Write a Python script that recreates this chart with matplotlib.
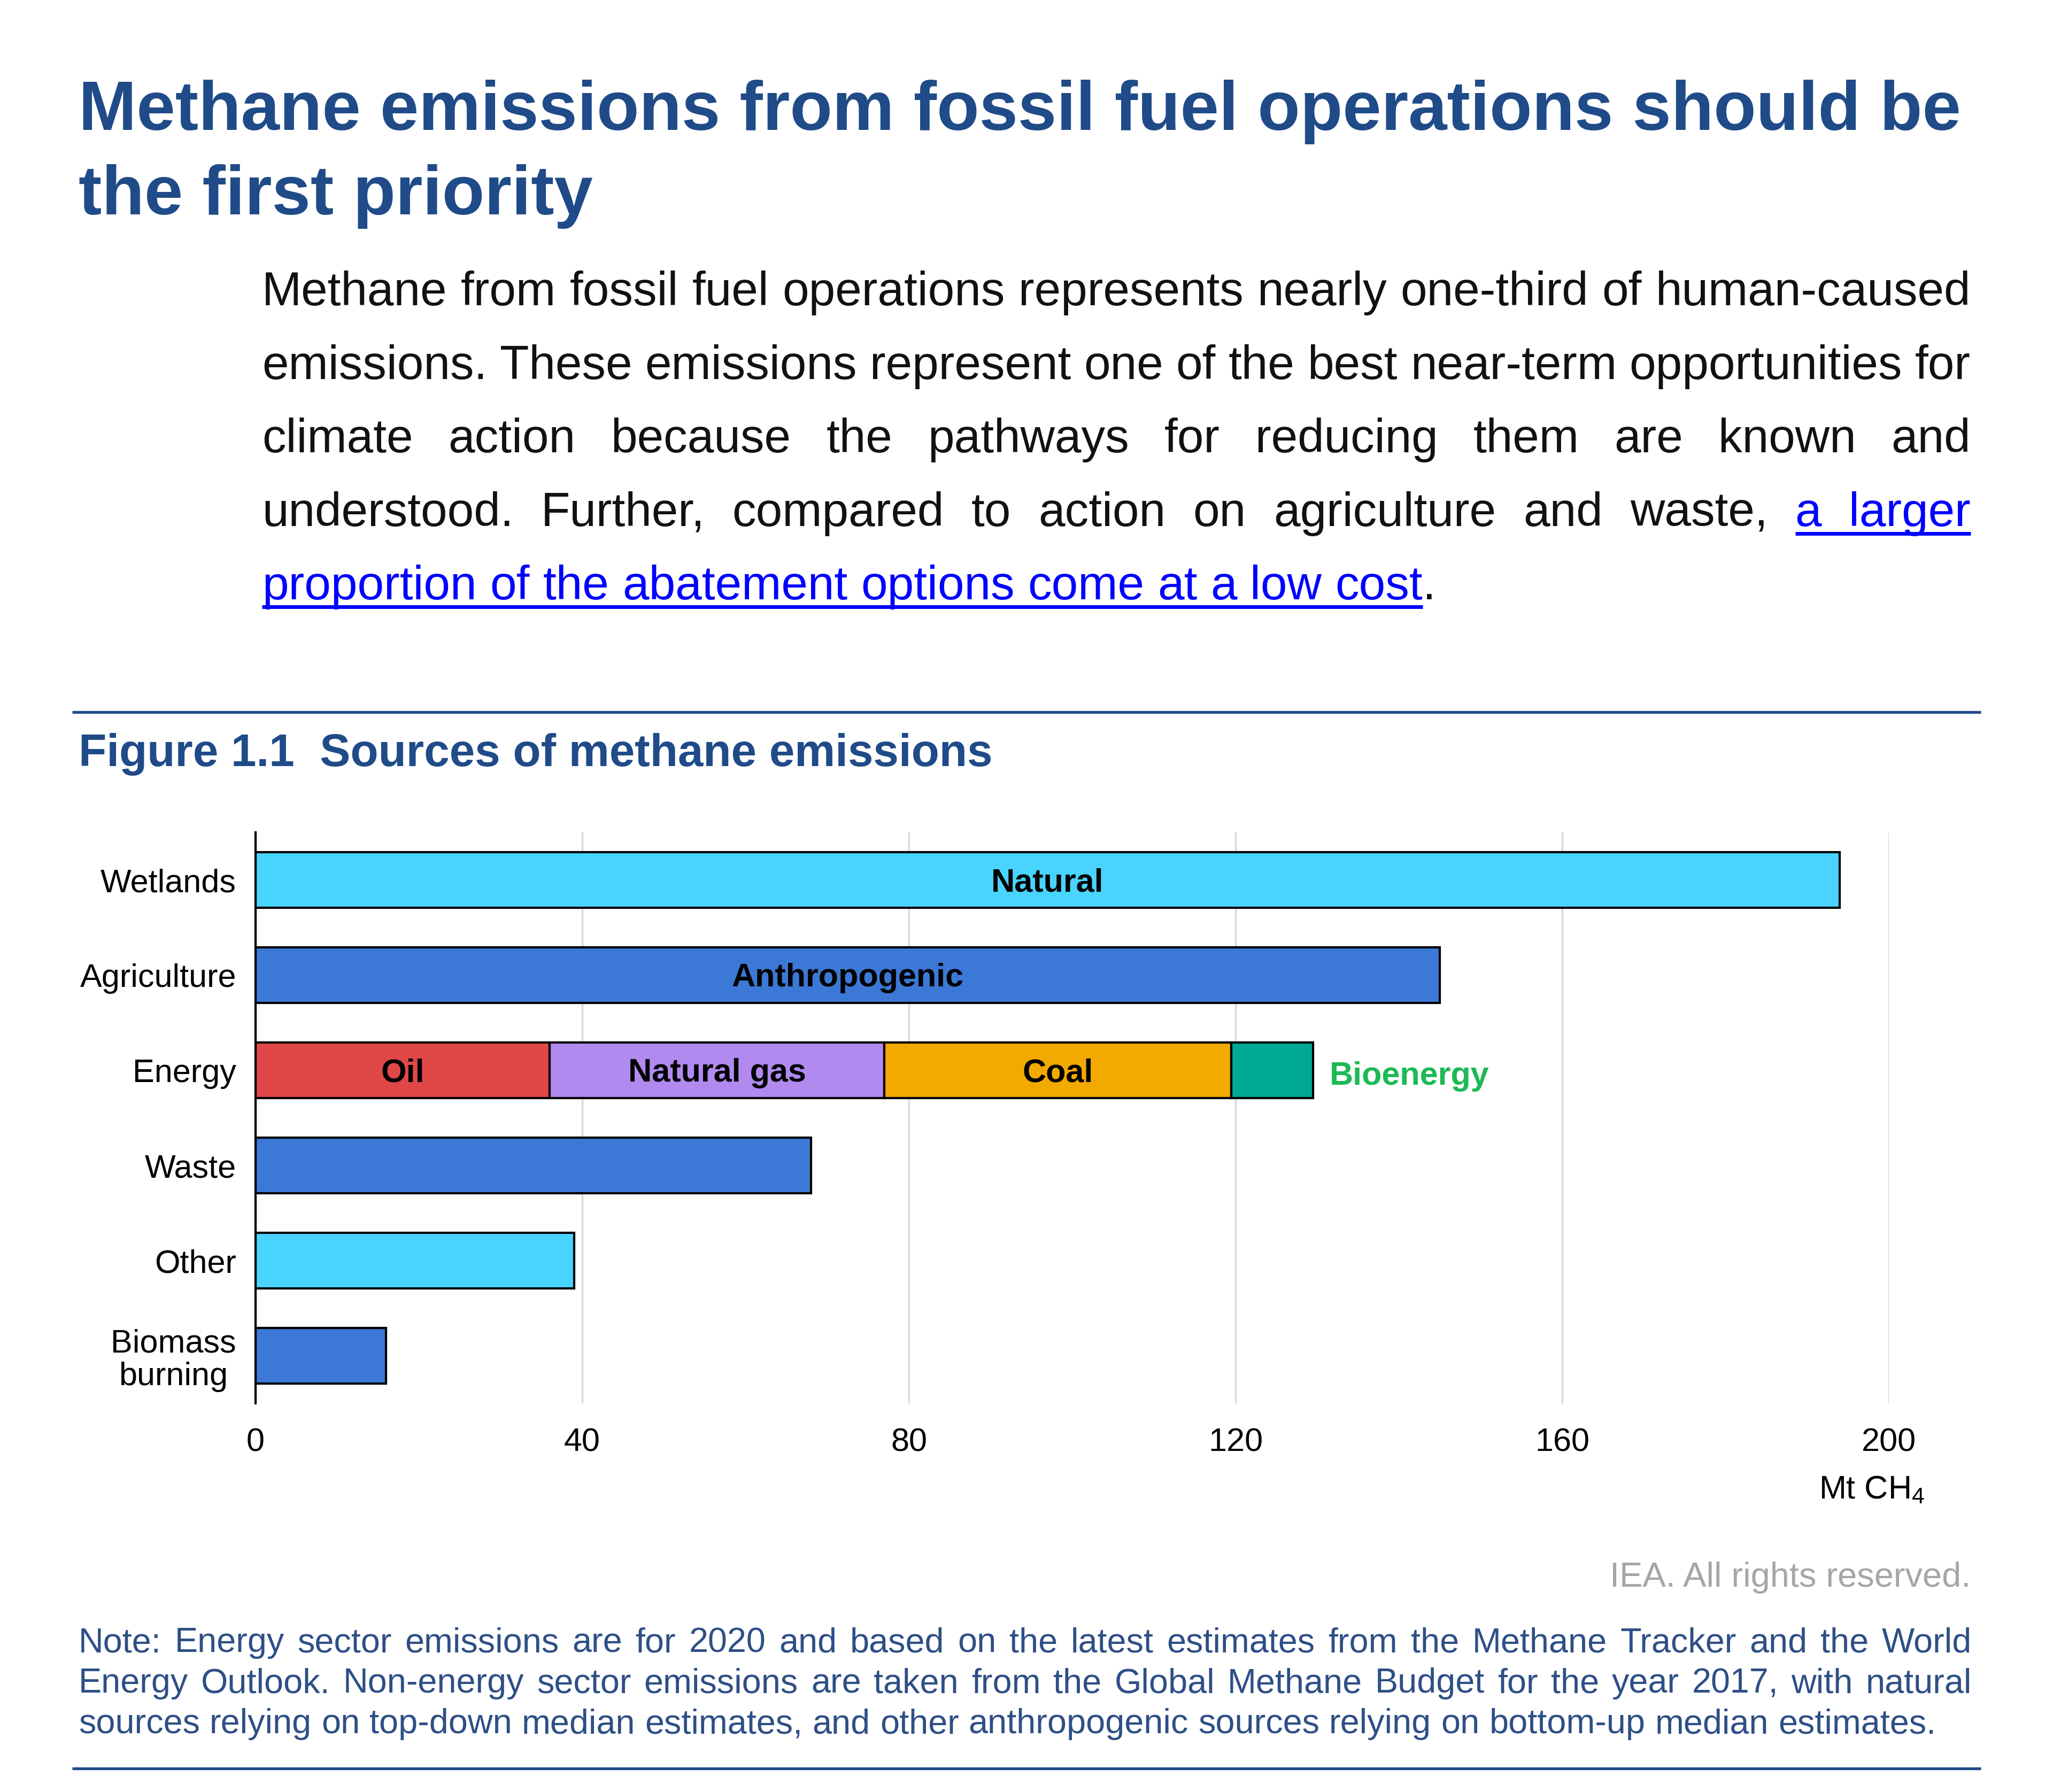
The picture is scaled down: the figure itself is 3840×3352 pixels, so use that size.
import numpy as np
import matplotlib
matplotlib.use("Agg")
import matplotlib.pyplot as plt
from matplotlib.lines import Line2D

FONT = "Liberation Sans"
plt.rcParams["font.family"] = FONT
plt.rcParams["mathtext.fontset"] = "custom"
plt.rcParams["mathtext.rm"] = FONT
plt.rcParams["mathtext.default"] = "regular"

## Chart data
categories = ["Wetlands", "Agriculture", "Energy", "Waste", "Other", "Biomass\nburning"]
totals = [194, 145, 0, 68, 39, 16]          # energy is drawn from its parts below
source_type = ["Natural", "Anthropogenic", None, "Anthropogenic", "Natural", "Anthropogenic"]
energy_parts = ["Oil", "Natural gas", "Coal", "Bioenergy"]
energy_values = [36, 41, 42.5, 10]
x_ticks = [0, 40, 80, 120, 160, 200]

## Page text
title_lines = ["Methane emissions from fossil fuel operations should be",
               "the first priority"]
body_lines = [
    ("Methane from fossil fuel operations represents nearly one-third of human-caused", ""),
    ("emissions. These emissions represent one of the best near-term opportunities for", ""),
    ("climate action because the pathways for reducing them are known and", ""),
    ("understood. Further, compared to action on agriculture and waste,", "a larger"),
    ("", "proportion of the abatement options come at a low cost"),
]
caption = "Figure 1.1  Sources of methane emissions"
unit_label = "Mt CH$_4$"
rights = "IEA. All rights reserved."
note_lines = [
    "Note: Energy sector emissions are for 2020 and based on the latest estimates from the Methane Tracker and the World",
    "Energy Outlook. Non-energy sector emissions are taken from the Global Methane Budget for the year 2017, with natural",
    "sources relying on top-down median estimates, and other anthropogenic sources relying on bottom-up median estimates.",
]

## Styles
type_colors = {"Natural": "#48d4ff", "Anthropogenic": "#3c78d6"}
energy_colors = ["#e04848", "#b18af0", "#f2a900", "#00a896"]
BIO_GREEN = "#1db954"
TITLE_BLUE = "#1f4b88"
NOTE_BLUE = "#2e4f86"
LINK = "#0000ff"

W, H = 3840, 3352
fig = plt.figure(figsize=(W / 100, H / 100), dpi=100)
renderer = fig.canvas.get_renderer()


def measure(s, size, weight="normal"):
    t = fig.text(0, 0, s, fontsize=size, fontweight=weight)
    w = t.get_window_extent(renderer).width
    t.remove()
    return w


def fit_size(s, target, weight="normal", base=40):
    return base * target / measure(s, base, weight)


def put(x, y, s, **kw):
    # x, y in output pixels from the top-left, y = baseline
    return fig.text(x / W, 1 - y / H, s, va="baseline", **kw)


def hline(x0, x1, y, color, lw):
    fig.add_artist(Line2D([x0 / W, x1 / W], [1 - y / H] * 2, transform=fig.transFigure,
                          color=color, lw=lw, solid_capstyle="butt"))


def draw_words(tokens, x0, x1, y, size, color, justify):
    # tokens: (word, is_link, glued_to_previous)
    widths = [measure(w, size) for w, _, _ in tokens]
    space = measure("a a", size) - measure("aa", size)
    n_gaps = sum(1 for k, t in enumerate(tokens) if k > 0 and not t[2])
    gap = (x1 - x0 - sum(widths)) / n_gaps if (justify and n_gaps) else space
    x = x0
    run = None
    size_px = size * 100 / 72
    for k, ((w, link, glued), wd) in enumerate(zip(tokens, widths)):
        if k > 0 and not glued:
            x += gap
        put(x, y, w, fontsize=size, color=LINK if link else color)
        if link:
            run = [x, x + wd] if run is None else [run[0], x + wd]
        elif run is not None:
            hline(run[0], run[1], y + 0.16 * size_px, LINK, 5)
            run = None
        x += wd
    if run is not None:
        hline(run[0], run[1], y + 0.16 * size_px, LINK, 5)


# title
title_size = fit_size(title_lines[0], 3514, "bold")
put(147, 243, title_lines[0], fontsize=title_size, fontweight="bold", color=TITLE_BLUE)
put(147, 401, title_lines[1], fontsize=title_size, fontweight="bold", color=TITLE_BLUE)

# body paragraph, justified
body_size = fit_size(body_lines[-1][1] + ".", 2197)
for i, (plain, link) in enumerate(body_lines):
    tokens = [(w, False, False) for w in plain.split()] + [(w, True, False) for w in link.split()]
    last = i == len(body_lines) - 1
    if last:
        tokens.append((".", False, True))
    draw_words(tokens, 490, 3686, 571 + i * 137.5, body_size, "#111111", not last)

# rules and caption
hline(135, 3705, 1332, TITLE_BLUE, 3.8)
hline(135, 3705, 3308, TITLE_BLUE, 3.8)
cap_size = fit_size(caption, 1709, "bold")
put(147, 1433, caption, fontsize=cap_size, fontweight="bold", color=TITLE_BLUE)

## Bar chart
ax = fig.add_axes([478 / W, 1 - 2625 / H, (3533 - 478) / W, (2625 - 1557) / H])
bar_h = 0.58
edge = dict(edgecolor="black", linewidth=3)
y_pos = np.arange(len(categories))

for i, (val, kind) in enumerate(zip(totals, source_type)):
    if kind is None:
        continue
    ax.barh(y_pos[i], val, height=bar_h, color=type_colors[kind], **edge)

e_idx = categories.index("Energy")
lefts = np.concatenate([[0], np.cumsum(energy_values)[:-1]])
ax.barh(np.full(len(energy_values), y_pos[e_idx]), energy_values, left=lefts,
        height=bar_h, color=energy_colors, **edge)

lab_size = 44
off = 0.12   # baseline shift so labels sit centred on the bar
for i, kind in enumerate(source_type[:2]):
    ax.text(totals[i] / 2, y_pos[i] + off, kind, ha="center", va="baseline",
            fontsize=lab_size, fontweight="bold", color="black")
for name, left, val in zip(energy_parts[:-1], lefts[:-1], energy_values[:-1]):
    ax.text(left + val / 2, y_pos[e_idx] + off, name, ha="center", va="baseline",
            fontsize=lab_size, fontweight="bold", color="black")
ax.text(sum(energy_values) + 2, y_pos[e_idx] + off + 0.03, energy_parts[-1], ha="left",
        va="baseline", fontsize=lab_size, fontweight="bold", color=BIO_GREEN)

ax.set_xlim(0, 200)
ax.set_ylim(len(categories) - 0.5, -0.5)
ax.set_xticks(x_ticks)
ax.set_xticklabels([str(t) for t in x_ticks], fontsize=lab_size)
ax.set_yticks(y_pos)
ax.set_yticklabels(categories, fontsize=lab_size, linespacing=1.1)
for lbl in ax.get_yticklabels():
    lbl.set_multialignment("center")
ax.tick_params(axis="x", length=0, pad=33)
ax.tick_params(axis="y", length=0, pad=26)
ax.xaxis.grid(True, color="#d9d9d9", linewidth=2.5)
ax.set_axisbelow(True)
for s in ["top", "right", "bottom"]:
    ax.spines[s].set_visible(False)
ax.spines["left"].set_linewidth(3)
ax.spines["left"].set_zorder(5)

put(3600, 2803, unit_label, fontsize=lab_size, ha="right", color="black")
put(3686, 2968, rights, fontsize=fit_size(rights, 676), ha="right", color="#a6a6a6")

# note, justified except the last line
note_size = fit_size(note_lines[-1], 3473)
for i, line in enumerate(note_lines):
    tokens = [(w, False, False) for w in line.split()]
    draw_words(tokens, 147, 3688, 3090 + i * 76, note_size, NOTE_BLUE, i < len(note_lines) - 1)

fig.savefig("out.png", dpi=100, facecolor="white")
